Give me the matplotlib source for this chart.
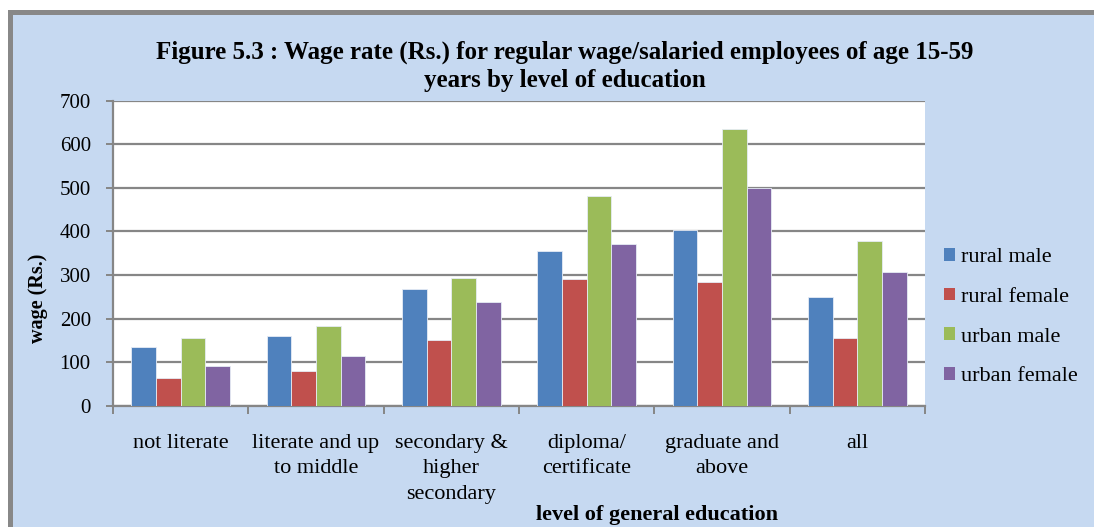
import matplotlib
matplotlib.use('Agg')
import matplotlib.pyplot as plt
import numpy as np
from matplotlib.patches import Rectangle, Patch

categories = ['not literate', 'literate and up\nto middle', 'secondary &\nhigher\nsecondary',
              'diploma/\ncertificate', 'graduate and\nabove', 'all']
rural_male = [134, 159, 267, 355, 403, 249]
rural_female = [64, 79, 151, 291, 285, 155]
urban_male = [155, 183, 293, 481, 635, 377]
urban_female = [91, 113, 237, 370, 500, 308]
series_names = ['rural male', 'rural female', 'urban male', 'urban female']
colors = ['#4F81BD', '#C0504D', '#9BBB59', '#8064A2']
y_ticks = [0, 100, 200, 300, 400, 500, 600, 700]

plt.rcParams['font.family'] = ['Liberation Serif', 'DejaVu Serif']

W, H = 1094, 527
fig = plt.figure(figsize=(W / 100, H / 100), dpi=100)
fig.patch.set_facecolor('white')
fig.patches.append(Rectangle((8 / W, 0), 1, (H - 10) / H, transform=fig.transFigure,
                             facecolor='#888888', edgecolor='none', zorder=-2))
fig.patches.append(Rectangle((13 / W, 0), 1, (H - 15) / H, transform=fig.transFigure,
                             facecolor='#C6D9F1', edgecolor='none', zorder=-1))

ax = fig.add_axes([113 / W, 1 - 405.7 / H, (925 - 113) / W, (405.7 - 100.7) / H])
ax.set_zorder(2)
ax.set_facecolor('white')

data = [rural_male, rural_female, urban_male, urban_female]
x = np.arange(len(categories))
w = 1 / 5.5
for i, (vals, c, name) in enumerate(zip(data, colors, series_names)):
    ax.bar(x + (i - 1.5) * w, vals, width=w, color=c, edgecolor='#E6ECF5', linewidth=0.6,
           label=name, zorder=3)

ax.set_xlim(-0.5, len(categories) - 0.5)
ax.set_ylim(0, 700)
ax.set_yticks(y_ticks)
ax.set_yticklabels([str(v) for v in y_ticks], fontsize=15)
ax.yaxis.grid(True, color='#868686', linewidth=1.6, zorder=1)
ax.set_axisbelow(True)

ax.set_xticks(np.arange(-0.5, len(categories), 1.0))
ax.set_xticklabels([])
ax.set_xticks(x, minor=True)
ax.set_xticklabels(categories, minor=True, fontsize=16, linespacing=1.45)
ax.tick_params(axis='x', which='major', length=6, width=1.4, color='#868686', direction='out')
ax.tick_params(axis='x', which='minor', length=0, pad=20.5)
ax.tick_params(axis='y', length=5, width=1.4, color='#868686', direction='out', pad=11)

for s in ['top', 'right']:
    ax.spines[s].set_visible(False)
for s in ['left', 'bottom']:
    ax.spines[s].set_color('#868686')
    ax.spines[s].set_linewidth(1.6)

fig.text(565 / W, 1 - 52 / H, 'Figure 5.3 : Wage rate (Rs.) for regular wage/salaried employees of age 15-59',
         ha='center', va='center', fontsize=18, fontweight='bold')
fig.text(565 / W, 1 - 80 / H, 'years by level of education',
         ha='center', va='center', fontsize=18, fontweight='bold')
fig.text(38 / W, 1 - 298 / H, 'wage (Rs.)', rotation=90, ha='center', va='center',
         fontsize=14.5, fontweight='bold')
fig.text(657 / W, 1 - 515 / H, 'level of general education', ha='center', va='center',
         fontsize=16, fontweight='bold')

handles = [Patch(facecolor=c, edgecolor='none') for c in colors]
fig.legend(handles, series_names, loc='upper left', bbox_to_anchor=(944 / W, 1 - 248 / H),
           frameon=False, fontsize=16, handlelength=0.5, handleheight=0.5,
           handletextpad=0.25, labelspacing=0.92, borderaxespad=0, borderpad=0)

fig.savefig('out.png', dpi=100)
